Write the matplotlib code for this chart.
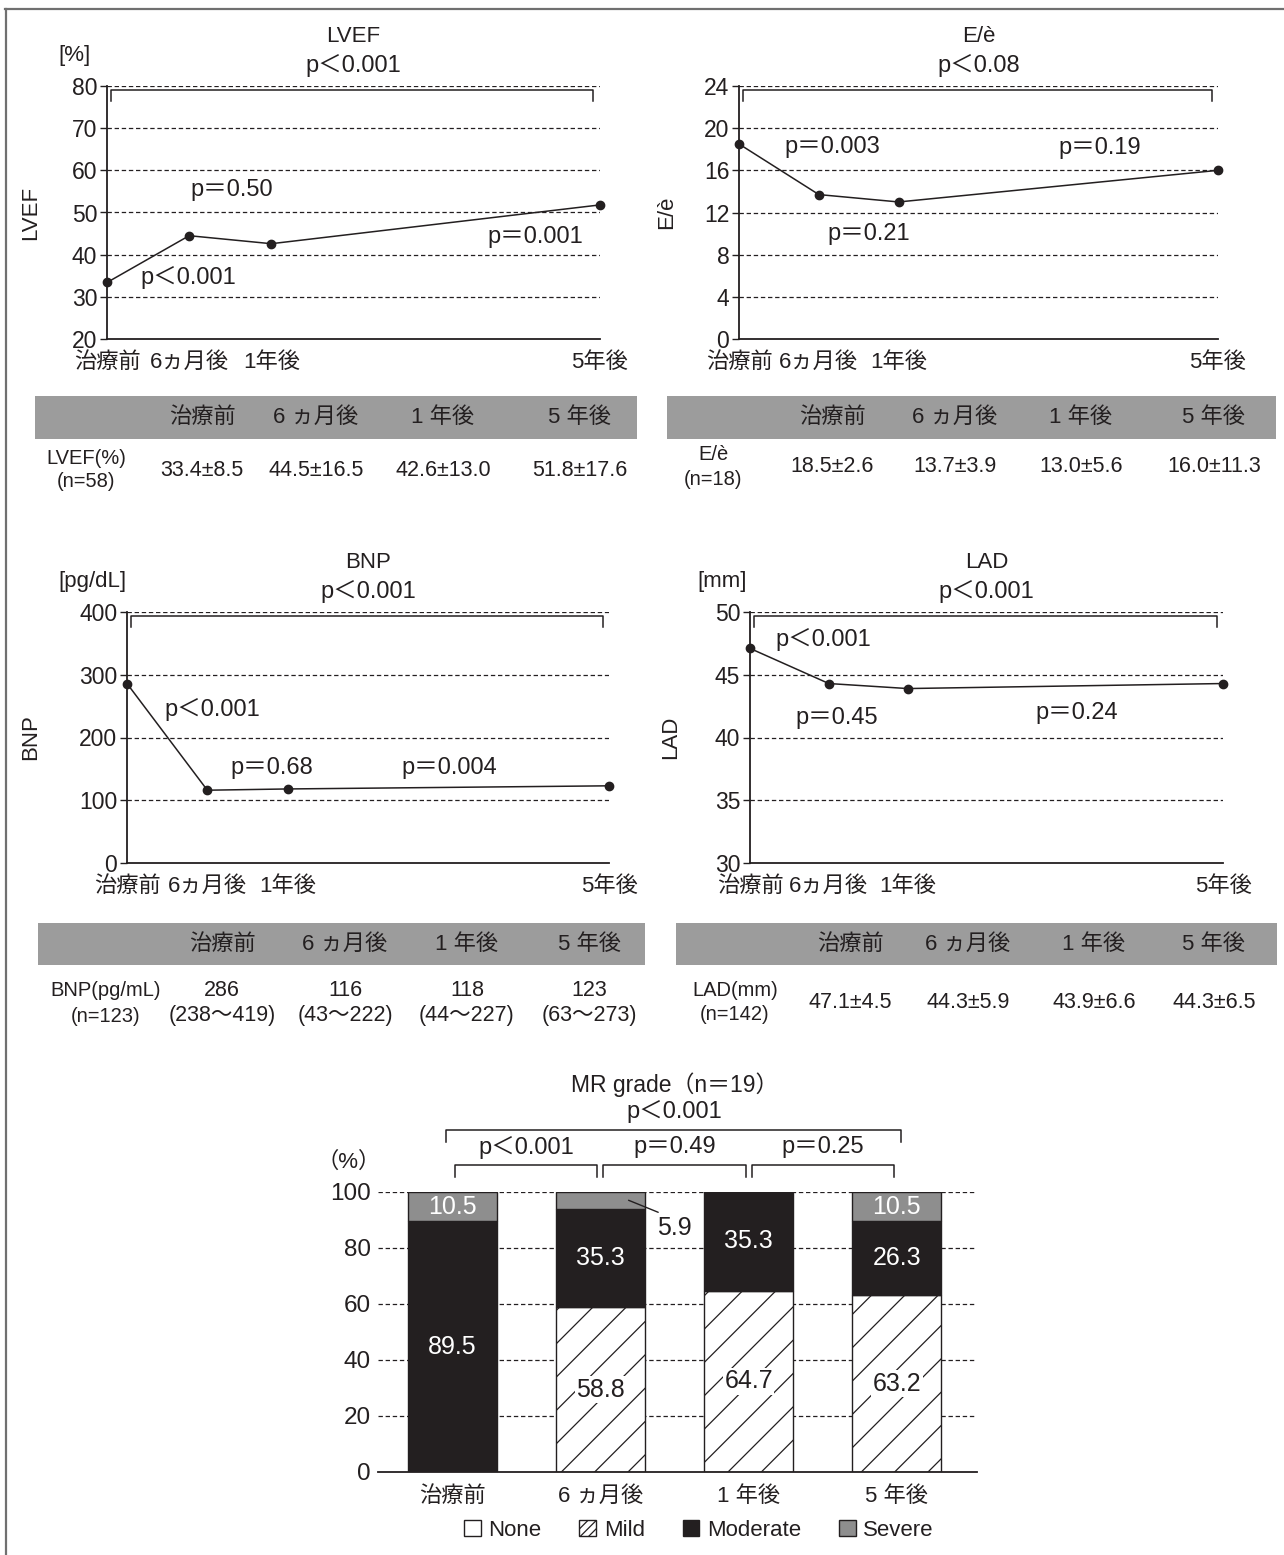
import matplotlib
matplotlib.use('Agg')
import numpy as np
import matplotlib.pyplot as plt
from matplotlib.patches import Rectangle, Patch
from matplotlib.lines import Line2D

plt.rcParams['font.family'] = ['Liberation Sans', 'Noto Sans CJK JP']
plt.rcParams['hatch.linewidth'] = 0.9
plt.rcParams['hatch.color'] = '#231f20'

INK = '#231f20'
BAND = '#9c9c9c'
SEVERE = '#8e8e8e'
DASH = (0, (3.5, 2.2))

# ---- data ----
time_labels = ['治療前', '6ヵ月後', '1年後', '5年後']
time_x = [0, 1, 2, 6]   # compressed time axis: 0, 6 mo, 1 yr, 5 yr
table_cols = ['治療前', '6 ヵ月後', '1 年後', '5 年後']

lvef_mean = [33.4, 44.5, 42.6, 51.8]
lvef_sd = [8.5, 16.5, 13.0, 17.6]
lvef_p_all = 'p＜0.001'
lvef_p = ['p＜0.001', 'p＝0.50', 'p＝0.001']

ee_mean = [18.5, 13.7, 13.0, 16.0]
ee_sd = [2.6, 3.9, 5.6, 11.3]
ee_p_all = 'p＜0.08'
ee_p = ['p＝0.003', 'p＝0.21', 'p＝0.19']

bnp_median = [286, 116, 118, 123]
bnp_q1 = [238, 43, 44, 63]
bnp_q3 = [419, 222, 227, 273]
bnp_p_all = 'p＜0.001'
bnp_p = ['p＜0.001', 'p＝0.68', 'p＝0.004']

lad_mean = [47.1, 44.3, 43.9, 44.3]
lad_sd = [4.5, 5.9, 6.6, 6.5]
lad_p_all = 'p＜0.001'
lad_p = ['p＜0.001', 'p＝0.45', 'p＝0.24']

mr_labels = ['治療前', '6 ヵ月後', '1 年後', '5 年後']
mr_grades = ['None', 'Mild', 'Moderate', 'Severe']
mr_none = [0, 0, 0, 0]
mr_mild = [0, 58.8, 64.7, 63.2]
mr_moderate = [89.5, 35.3, 35.3, 26.3]
mr_severe = [10.5, 5.9, 0, 10.5]
mr_p_all = 'p＜0.001'
mr_p = ['p＜0.001', 'p＝0.49', 'p＝0.25']

# ---- layout helpers (pixel coords, origin top-left) ----
W, H = 1284, 1555
fig = plt.figure(figsize=(W / 100, H / 100), dpi=100)


def fx(x):
    return x / W


def fy(y):
    return 1 - y / H


def ftext(x, y, s, **kw):
    kw.setdefault('ha', 'center')
    kw.setdefault('va', 'center')
    kw.setdefault('color', INK)
    return fig.text(fx(x), fy(y), s, **kw)


def px_axes(l, t, r, b):
    return fig.add_axes([fx(l), fy(b), (r - l) / W, (b - t) / H])


def line_panel(box, values, ylim, ystep, title, p_all, p_pair, p_xy,
               ylabel, ylabel_x, unit=None, unit_x=None):
    l, t, r, b = box
    ax = px_axes(l, t, r, b)
    yticks = np.arange(ylim[0], ylim[1] + ystep / 2, ystep)
    for y in yticks[1:]:
        ax.axhline(y, color=INK, lw=0.9, ls=DASH, zorder=1)
    ax.plot(time_x, values, color=INK, lw=1.1, marker='o', ms=6,
            clip_on=False, zorder=3)
    ax.set_xlim(0, 6)
    ax.set_ylim(*ylim)
    ax.set_yticks(yticks)
    ax.set_xticks(time_x, time_labels)
    ax.tick_params(axis='y', length=5, width=1, pad=2, labelsize=16.5,
                   colors=INK)
    ax.tick_params(axis='x', length=0, pad=9, labelsize=16, colors=INK)
    for s in ['top', 'right']:
        ax.spines[s].set_visible(False)
    for s in ['left', 'bottom']:
        ax.spines[s].set_linewidth(1.3)
        ax.spines[s].set_color(INK)
    # bracket for overall p
    tr = ax.get_xaxis_transform()
    h = b - t
    yb, yt = 1 - 4 / h, 1 - 15 / h
    ax.plot([0.05, 0.05, 5.92, 5.92], [yt, yb, yb, yt], transform=tr,
            color=INK, lw=1.1, clip_on=False)
    for s, (x, y) in zip(p_pair, p_xy):
        ax.text(x, y, s, ha='center', va='center', fontsize=17, color=INK)
    cx = (l + r) / 2
    ftext(cx, t - 50, title, fontsize=16)
    ftext(cx, t - 21, p_all, fontsize=17)
    ftext(ylabel_x, (t + b) / 2, ylabel, rotation=90, fontsize=16)
    if unit:
        ftext(unit_x, t - 30, unit, ha='left', fontsize=16)
    return ax


def table(l, r, t, b, cols, label_x, label_lines, label_y, value_rows, value_y):
    fig.add_artist(Rectangle((fx(l), fy(b)), (r - l) / W, (b - t) / H,
                             transform=fig.transFigure, facecolor=BAND,
                             edgecolor='none'))
    for x, s in zip(cols, table_cols):
        ftext(x, (t + b) / 2, s, fontsize=16)
    for s, y in zip(label_lines, label_y):
        ftext(label_x, y, s, fontsize=14.5)
    for row, y in zip(value_rows, value_y):
        for x, s in zip(cols, row):
            ftext(x, y, s, fontsize=15.5)


# ---- line panels ----
line_panel((107, 86, 600, 339), lvef_mean, (20, 80), 10, 'LVEF', lvef_p_all,
           lvef_p, [(0.99, 34.5), (1.52, 55.3), (5.21, 44.2)],
           'LVEF', 31, '[%]', 58)
line_panel((739, 86, 1218, 339), ee_mean, (0, 24), 4, 'E/è', ee_p_all,
           ee_p, [(1.17, 18.2), (1.63, 10.0), (4.52, 18.1)],
           'E/è', 667)
line_panel((127, 612, 609, 863), bnp_median, (0, 400), 100, 'BNP', bnp_p_all,
           bnp_p, [(1.06, 244), (1.80, 151), (4.01, 151)],
           'BNP', 31, '[pg/dL]', 58)
line_panel((750, 612, 1223, 863), lad_mean, (30, 50), 5, 'LAD', lad_p_all,
           lad_p, [(0.93, 47.8), (1.10, 41.55), (4.15, 41.95)],
           'LAD', 671, '[mm]', 697)

# ---- tables ----
table(35, 637, 396, 439, [202, 316, 443, 580], 86,
      ['LVEF(%)', '(n=58)'], [459, 482],
      [[f'{m:.1f}±{s:.1f}' for m, s in zip(lvef_mean, lvef_sd)]], [470])
table(667, 1276, 396, 439, [832, 955, 1081, 1214], 713,
      ['E/è', '(n=18)'], [454, 479],
      [[f'{m:.1f}±{s:.1f}' for m, s in zip(ee_mean, ee_sd)]], [467])
table(38, 645, 923, 965, [222, 345, 467, 589], 106,
      ['BNP(pg/mL)', '(n=123)'], [991, 1016],
      [[str(v) for v in bnp_median],
       [f'({a}〜{c})' for a, c in zip(bnp_q1, bnp_q3)]], [991, 1016])
table(676, 1277, 923, 965, [850, 968, 1094, 1214], 735,
      ['LAD(mm)', '(n=142)'], [991, 1014],
      [[f'{m:.1f}±{s:.1f}' for m, s in zip(lad_mean, lad_sd)]], [1003])

# ---- MR grade stacked bars ----
ax = px_axes(378, 1192, 977, 1472)
x = np.arange(len(mr_labels))
ax.set_xlim(-0.5, 3.54)
ax.set_ylim(0, 100)
for y in range(20, 101, 20):
    ax.axhline(y, color=INK, lw=0.9, ls=DASH, zorder=1)
styles = [dict(facecolor='white'), dict(facecolor='white', hatch='/'),
          dict(facecolor=INK), dict(facecolor=SEVERE)]
txt_col = [INK, INK, 'white', 'white']
bottom = np.zeros(len(x))
for k, vals in enumerate([mr_none, mr_mild, mr_moderate, mr_severe]):
    vals = np.array(vals, dtype=float)
    ax.bar(x, vals, 0.6, bottom=bottom, edgecolor=INK, linewidth=1,
           zorder=2, **styles[k])
    for i, v in enumerate(vals):
        if v >= 10:
            kw = {}
            if k == 1:
                kw['bbox'] = dict(facecolor='white', edgecolor='none', pad=1)
            ax.text(i, bottom[i] + v / 2, f'{v:.1f}', ha='center', va='center',
                    fontsize=18, color=txt_col[k], zorder=4, **kw)
        elif v > 0:
            ax.annotate(f'{v:.1f}', xy=(i + 0.19, bottom[i] + v / 2),
                        xytext=(i + 0.5, bottom[i] - 7), ha='center',
                        va='center', fontsize=18, color=INK,
                        arrowprops=dict(arrowstyle='-', color=INK, lw=1,
                                        relpos=(0.3, 1.0), shrinkA=2,
                                        shrinkB=0))
    bottom += vals

ax.set_yticks(range(0, 101, 20))
ax.set_xticks(x, mr_labels)
ax.tick_params(axis='y', length=0, pad=5, labelsize=17.5, colors=INK)
ax.tick_params(axis='x', length=0, pad=10, labelsize=16, colors=INK)
for s in ['top', 'right', 'left']:
    ax.spines[s].set_visible(False)
ax.spines['bottom'].set_linewidth(1.3)
ax.spines['bottom'].set_color(INK)

ax.text(1.5, 138.2, 'MR grade（n＝19）', ha='center', va='center',
        fontsize=16.5, color=INK)
ax.text(1.5, 128.6, mr_p_all, ha='center', va='center', fontsize=17,
        color=INK)
ax.plot([-0.04, -0.04, 3.03, 3.03], [117.9, 122.1, 122.1, 117.9],
        color=INK, lw=1.1, clip_on=False)
for i, s in enumerate(mr_p):
    ax.plot([i + 0.02, i + 0.02, i + 0.98, i + 0.98],
            [105.4, 109.6, 109.6, 105.4], color=INK, lw=1.1, clip_on=False)
    ax.text(i + 0.5, 116, s, ha='center', va='center', fontsize=17, color=INK)
ftext(349, 1162, '（%）', fontsize=16)

handles = [Patch(facecolor='white', edgecolor=INK, lw=1),
           Patch(facecolor='white', edgecolor=INK, hatch='////', lw=1),
           Patch(facecolor=INK, edgecolor=INK, lw=1),
           Patch(facecolor=SEVERE, edgecolor=INK, lw=1)]
fig.legend(handles, mr_grades, loc='center', bbox_to_anchor=(fx(699), fy(1530)),
           ncol=4, frameon=False, fontsize=16, handlelength=0.75,
           handleheight=0.75, handletextpad=0.35, columnspacing=1.7,
           labelcolor=INK)

# page frame (top and left rules)
fig.add_artist(Line2D([fx(5), 1], [fy(9), fy(9)], transform=fig.transFigure,
                      color='#707070', lw=1.6))
fig.add_artist(Line2D([fx(6), fx(6)], [fy(9), 0], transform=fig.transFigure,
                      color='#707070', lw=1.6))

fig.savefig('out.png', dpi=100)
